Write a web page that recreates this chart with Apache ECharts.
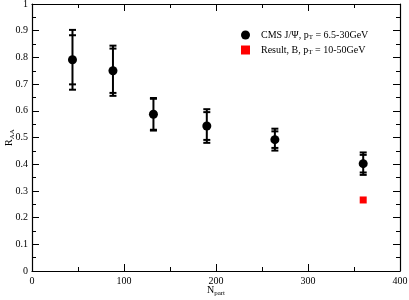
<!DOCTYPE html>
<html><head><meta charset="utf-8">
<script src="https://cdn.jsdelivr.net/npm/echarts@6/dist/echarts.min.js"></script>
<style>html,body{margin:0;padding:0;background:#fff}#c{width:409px;height:300px}</style>
</head><body><div id="c"></div>
<script>
var npart = [44, 88, 132, 190, 264, 360];
var raa = [0.791, 0.750, 0.587, 0.543, 0.492, 0.402];
var statErr = [0.092, 0.083, 0.058, 0.052, 0.031, 0.033];
var totErr = [0.112, 0.094, 0.061, 0.063, 0.041, 0.042];
var bNpart = [360];
var bRaa = [0.266];
var xTicks = [0, 100, 200, 300, 400];
var yTicks = [0, 0.1, 0.2, 0.3, 0.4, 0.5, 0.6, 0.7, 0.8, 0.9, 1];

var FONT = '"Liberation Serif","DejaVu Serif",serif';
var chart = echarts.init(document.getElementById('c'), null, {renderer: 'canvas'});

var errData = npart.map(function (x, i) { return [x, raa[i], statErr[i], totErr[i]]; });

function errRender(params, api) {
  var x = api.value(0), y = api.value(1), s = api.value(2), t = api.value(3);
  var children = [];
  var top = api.coord([x, y + t]), bot = api.coord([x, y - t]);
  var style = {stroke: '#000', lineWidth: 2};
  children.push({type: 'line', shape: {x1: top[0], y1: top[1], x2: bot[0], y2: bot[1]}, style: style});
  [y + t, y - t, y + s, y - s].forEach(function (v) {
    var p = api.coord([x, v]);
    children.push({type: 'line', shape: {x1: p[0] - 3.5, y1: p[1], x2: p[0] + 3.5, y2: p[1]}, style: style});
  });
  return {type: 'group', children: children};
}

var axisLine = {show: true, onZero: false, lineStyle: {color: '#000', width: 1.2}};
var tickStyle = {color: '#000', width: 1};
var labelStyle = {fontFamily: FONT, fontSize: 10, color: '#000'};
var subRich = {m: {fontFamily: FONT, fontSize: 10, color: '#000'}, s: {fontFamily: FONT, fontSize: 7, color: '#000', verticalAlign: 'bottom', padding: [6, 0, 0, 0]}};

chart.setOption({
  animation: false,
  grid: {left: 32, right: 9, top: 4, bottom: 29, containLabel: false, outerBoundsMode: 'none'},
  xAxis: [{
    type: 'value', min: xTicks[0], max: xTicks[xTicks.length - 1], interval: 100,
    position: 'bottom',
    axisLine: axisLine,
    axisTick: {show: true, inside: true, length: 7, lineStyle: tickStyle},
    minorTick: {show: true, splitNumber: 2, length: 4, lineStyle: tickStyle},
    splitLine: {show: false},
    axisLabel: Object.assign({margin: 5}, labelStyle),
    name: '{m|N}{s|part}', nameLocation: 'middle', nameGap: 13, nameMoveOverlap: false,
    nameTextStyle: {rich: subRich}
  }, {
    type: 'value', min: 0, max: 400, interval: 100, position: 'top',
    axisLine: axisLine,
    axisTick: {show: true, inside: true, length: 7, lineStyle: tickStyle},
    minorTick: {show: true, splitNumber: 2, length: 4, lineStyle: tickStyle},
    splitLine: {show: false}, axisLabel: {show: false}
  }],
  yAxis: [{
    type: 'value', min: yTicks[0], max: yTicks[yTicks.length - 1], interval: 0.1,
    position: 'left',
    axisLine: axisLine,
    axisTick: {show: true, inside: true, length: 7, lineStyle: tickStyle},
    minorTick: {show: true, splitNumber: 2, length: 4, lineStyle: tickStyle},
    splitLine: {show: false},
    axisLabel: Object.assign({margin: 4, formatter: function (v) { return String(Math.round(v * 10) / 10); }}, labelStyle),
    name: '{m|R}{s|AA}', nameLocation: 'middle', nameGap: 16, nameRotate: 90, nameMoveOverlap: false,
    nameTextStyle: {rich: subRich}
  }, {
    type: 'value', min: 0, max: 1, interval: 0.1, position: 'right',
    axisLine: axisLine,
    axisTick: {show: true, inside: true, length: 7, lineStyle: tickStyle},
    minorTick: {show: true, splitNumber: 2, length: 4, lineStyle: tickStyle},
    splitLine: {show: false}, axisLabel: {show: false}
  }],
  legend: {
    orient: 'vertical', left: 236, top: 25, itemWidth: 9, itemHeight: 9, itemGap: 4,
    data: [{name: 'cms', icon: 'circle'}, {name: 'res', icon: 'rect'}],
    formatter: function (n) {
      return n === 'cms' ? '{f|CMS J/Ψ, p}{s|T}{t| = 6.5-30GeV}' : '{f|Result, B, p}{s|T}{t| = 10-50GeV}';
    },
    textStyle: {rich: {
      f: {fontFamily: FONT, fontSize: 10, color: '#000', padding: [0, 0, 0, 6]},
      t: {fontFamily: FONT, fontSize: 10, color: '#000'},
      s: {fontFamily: FONT, fontSize: 7, color: '#000', verticalAlign: 'bottom', padding: [5, 0, 0, 0]}}}
  },
  series: [{
    type: 'custom', name: 'err', renderItem: errRender, data: errData, encode: {x: 0, y: 1}, z: 2, silent: true
  }, {
    type: 'scatter', name: 'cms', symbol: 'circle', symbolSize: 9,
    itemStyle: {color: '#000', opacity: 1}, data: npart.map(function (x, i) { return [x, raa[i]]; }), z: 3
  }, {
    type: 'scatter', name: 'res', symbol: 'rect', symbolSize: 7,
    itemStyle: {color: '#ff0000', opacity: 1}, data: bNpart.map(function (x, i) { return [x, bRaa[i]]; }), z: 3
  }]
});
</script></body></html>
